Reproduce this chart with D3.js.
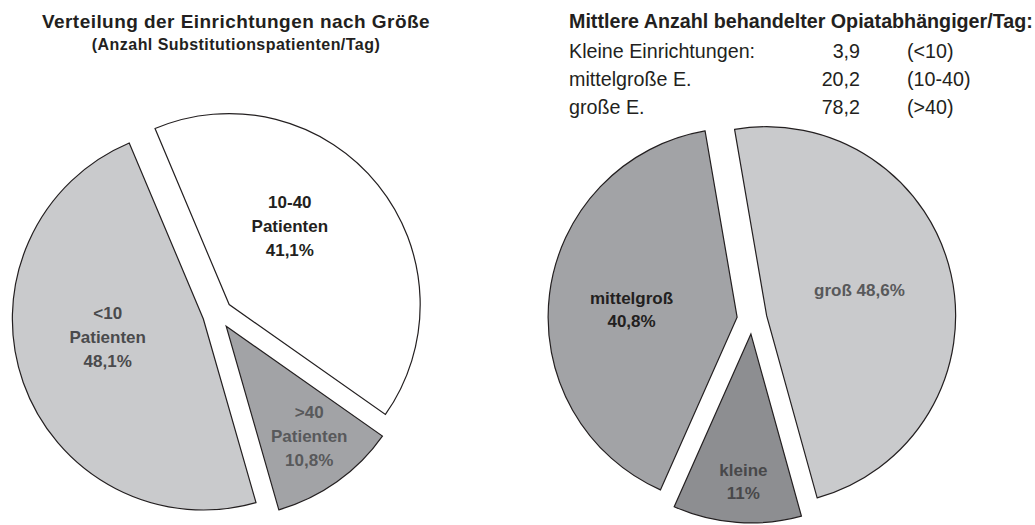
<!DOCTYPE html>
<html>
<head>
<meta charset="utf-8">
<script src="https://cdn.jsdelivr.net/npm/d3@7"></script>
<style>
  body { margin: 0; background: #ffffff; }
  text { font-family: "Liberation Sans", Arial, Helvetica, sans-serif; }
</style>
</head>
<body>
<div id="cnt"></div>
<script>
let ancho = 1035;
let largo = 525;

// Datos: gráfico izquierdo (Verteilung nach Größe)
let categoriasIzq = ["<10", "10-40", ">40"];
let valoresIzq = [48.1, 41.1, 10.8];
let etiquetasIzq = [["<10", "Patienten", "48,1%"], ["10-40", "Patienten", "41,1%"], [">40", "Patienten", "10,8%"]];

// Datos: gráfico derecho (Opiatabhängige)
let categoriasDer = ["kleine", "mittelgroß", "groß"];
let valoresDer = [11, 40.8, 48.6];
let etiquetasDer = [["kleine", "11%"], ["mittelgroß", "40,8%"], ["groß 48,6%"]];

// Tabla de medias
let filasTabla = ["Kleine Einrichtungen:", "mittelgroße E.", "große E."];
let mediasTabla = ["3,9", "20,2", "78,2"];
let rangosTabla = ["(<10)", "(10-40)", "(>40)"];

let negro = "#231f20";

let svg = d3.select('#cnt')
    .append("svg")
    .attr('width', ancho)
    .attr('height', largo)

//Dibuja un pastel con porciones separadas
function pastel(conf) {
    let pie = d3.pie()
        .sort(null)
        .value(d => d.v)
        .startAngle(conf.inicio * Math.PI / 180)
        .endAngle((conf.inicio + 360) * Math.PI / 180);

    let datos = conf.cats.map((c, i) => ({ c: c, v: conf.vals[i], lab: conf.labs[i], i: i }));
    let arco = d3.arc().innerRadius(0).outerRadius(conf.r);

    let g = svg.append("g")
        .attr('transform', 'translate(' + conf.cx + ',' + conf.cy + ')');

    let porciones = g.selectAll("g.slice")
        .data(pie(datos)).enter()
        .append("g")
        .attr('class', 'slice')
        .attr('transform', function (d) {
            let a = (d.startAngle + d.endAngle) / 2;
            return 'translate(' + (Math.sin(a) * conf.sep) + ',' + (-Math.cos(a) * conf.sep) + ')';
        })

    porciones.append("path")
        .attr('d', arco)
        .style('fill', d => conf.colores[d.data.i])
        .style('stroke', negro)
        .style('stroke-width', 1.2)
        .style('stroke-linejoin', 'miter')

    porciones.each(function (d) {
        let a = (d.startAngle + d.endAngle) / 2 + conf.desvio[d.data.i] * Math.PI / 180;
        let rr = conf.r * conf.radioEtiq[d.data.i];
        let x = Math.sin(a) * rr;
        let y = -Math.cos(a) * rr;
        let lineas = d.data.lab;
        let t = d3.select(this).append("text")
            .attr('x', x)
            .attr('y', y)
            .attr('text-anchor', 'middle')
            .style('font-size', '17px')
            .style('font-weight', 'bold')
            .style('fill', conf.colorTexto[d.data.i])
        lineas.forEach(function (l, k) {
            t.append("tspan")
                .attr('x', x)
                .attr('y', y + (k - (lineas.length - 1) / 2) * conf.interlinea + 6)
                .text(l)
        })
    })
}

pastel({
    cats: categoriasIzq, vals: valoresIzq, labs: etiquetasIzq,
    cx: 217.5, cy: 314, r: 191, sep: 15, inicio: 164,
    colores: ["#c9cacc", "#ffffff", "#a2a3a6"],
    colorTexto: ["#4a4a4c", "#231f20", "#58595b"],
    radioEtiq: [0.51, 0.52, 0.72],
    desvio: [8.5, -13.5, -1.7],
    interlinea: 24
});

pastel({
    cats: categoriasDer, vals: valoresDer, labs: etiquetasDer,
    cx: 752, cy: 319, r: 189, sep: 15, inicio: 164.5,
    colores: ["#8d8e91", "#a2a3a6", "#c9cacc"],
    colorTexto: ["#48484a", "#231f20", "#58595b"],
    radioEtiq: [0.78, 0.56, 0.51],
    desvio: [-1.3, -3, -3],
    interlinea: 23
});

//Titulos
svg.append("text")
    .text("Verteilung der Einrichtungen nach Größe")
    .attr('x', 236)
    .attr('y', 28)
    .attr('text-anchor', 'middle')
    .style('font-size', '19px')
    .style('font-weight', 'bold')
    .style('letter-spacing', '0.45px')
    .style('fill', negro)

svg.append("text")
    .text("(Anzahl Substitutionspatienten/Tag)")
    .attr('x', 236)
    .attr('y', 50)
    .attr('text-anchor', 'middle')
    .style('font-size', '16px')
    .style('font-weight', 'bold')
    .style('letter-spacing', '0.45px')
    .style('fill', negro)

svg.append("text")
    .text("Mittlere Anzahl behandelter Opiatabhängiger/Tag:")
    .attr('x', 569)
    .attr('y', 28)
    .style('font-size', '19.7px')
    .style('font-weight', 'bold')
    .style('fill', negro)

//Tabla
let filas = svg.selectAll("g.fila")
    .data(filasTabla).enter()
    .append("g")
    .attr('class', 'fila')
    .attr('transform', (d, i) => 'translate(0,' + (58 + i * 28) + ')')
    .style('font-size', '19.7px')
    .style('fill', negro)

filas.append("text")
    .attr('x', 569)
    .text(d => d)

filas.append("text")
    .attr('x', 860)
    .attr('text-anchor', 'end')
    .text((d, i) => mediasTabla[i])

filas.append("text")
    .attr('x', 907)
    .text((d, i) => rangosTabla[i])
</script>
</body>
</html>
